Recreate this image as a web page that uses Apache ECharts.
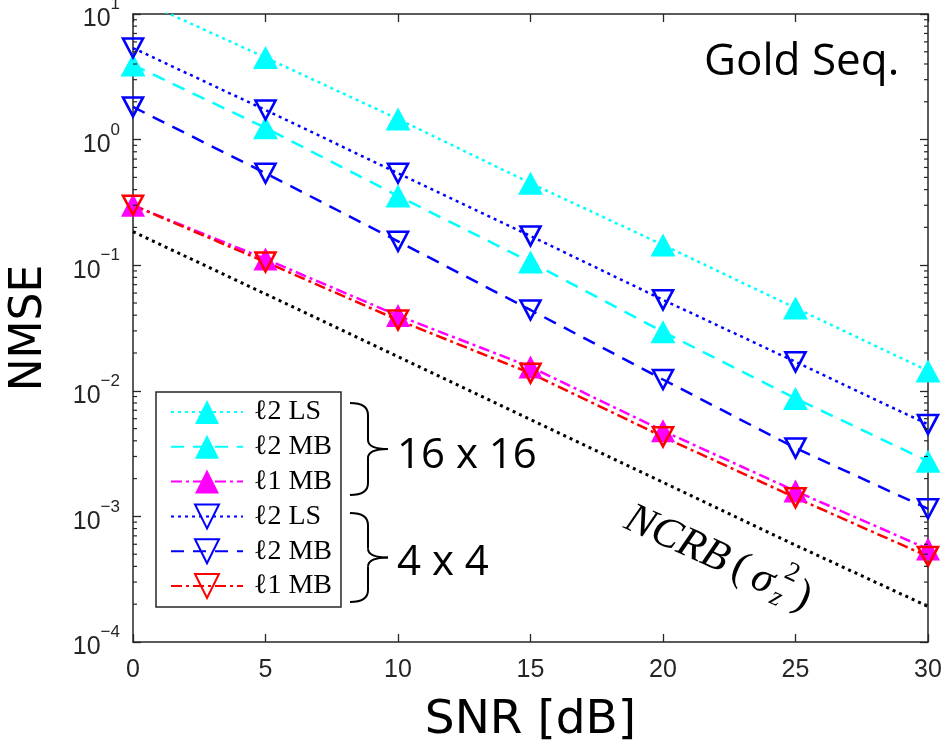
<!DOCTYPE html>
<html>
<head>
<meta charset="utf-8">
<script src="https://cdn.jsdelivr.net/npm/echarts@6/dist/echarts.min.js"></script>
<style>
  html, body { margin: 0; padding: 0; background: #ffffff; }
  #chart { width: 946px; height: 751px; }
</style>
</head>
<body>
<div id="chart"></div>
<script>
// SNR grid (dB) and x tick labels
const snrDb = [0, 5, 10, 15, 20, 25, 30];
const xTickValues = [0, 5, 10, 15, 20, 25, 30];

// NMSE curves, 16 x 16 array
const ls16 = [13.6, 4.5, 1.46, 0.45, 0.145, 0.0457, 0.0144];
const mb16 = [3.93, 1.24, 0.356, 0.106, 0.0295, 0.0087, 0.00275];
const l1mb16 = [0.30, 0.112, 0.0397, 0.0155, 0.0048, 0.00159, 0.00055];

// NMSE curves, 4 x 4 array
const ls4 = [5.36, 1.72, 0.54, 0.171, 0.053, 0.017, 0.0054];
const mb4 = [1.82, 0.54, 0.155, 0.044, 0.0123, 0.0035, 0.00115];
const l1mb4 = [0.30, 0.106, 0.0366, 0.0138, 0.0043, 0.00141, 0.00048];

// bound curve
const ncrb = [0.185, 0.059, 0.0187, 0.0059, 0.00187, 0.00059, 0.000192];

// y-axis decades
const yMin = 1e-4, yMax = 10;

const AXIS = '#262626';
const pts = vals => snrDb.map((x, i) => [x, vals[i]]);

// minor log ticks 2..9 within each decade
const minorTicks = [];
for (let d = -4; d < 1; d++) {
  for (let k = 2; k <= 9; k++) minorTicks.push([0, k * Math.pow(10, d)]);
}

const DOT = [3, 4];
const DASH = [13, 9];
const DASHDOT = [11, 4, 3, 4];

function lineSeries(name, vals, color, dash, opts) {
  return Object.assign({
    name: name,
    type: 'line',
    data: pts(vals),
    clip: true,
    lineStyle: { color: color, width: 2.5, type: dash },
    emphasis: { disabled: true },
    animation: false
  }, opts);
}

const upFilled = (color, size) => ({
  symbol: 'triangle', symbolSize: size, symbolKeepAspect: false,
  itemStyle: { color: color, borderColor: color, borderWidth: 0 }
});
const downOpen = color => ({
  symbol: 'triangle', symbolSize: [20, 19], symbolRotate: 180,
  itemStyle: { color: 'rgba(255,255,255,0)', borderColor: color, borderWidth: 2.6 }
});

const series = [
  lineSeries('\u21132 LS (16x16)', ls16, '#00ffff', DOT, upFilled('#00ffff', [25, 23])),
  lineSeries('\u21132 MB (16x16)', mb16, '#00ffff', DASH, upFilled('#00ffff', [25, 23])),
  lineSeries('\u21131 MB (16x16)', l1mb16, '#ff00ff', DASHDOT, upFilled('#ff00ff', [24, 23])),
  lineSeries('\u21132 LS (4x4)', ls4, '#0000ff', DOT, downOpen('#0000ff')),
  lineSeries('\u21132 MB (4x4)', mb4, '#0000ff', DASH, downOpen('#0000ff')),
  lineSeries('\u21131 MB (4x4)', l1mb4, '#ff0000', DASHDOT, downOpen('#ff0000')),
  lineSeries('NCRB', ncrb, '#000000', DOT, { symbol: 'none', lineStyle: { color: '#000000', width: 3, type: DOT } }),
  {
    type: 'custom',
    silent: true,
    data: minorTicks,
    z: 5,
    renderItem: function (params, api) {
      const y = api.coord([0, api.value(1)])[1];
      const cs = params.coordSys;
      const st = { stroke: AXIS, lineWidth: 1.2 };
      return {
        type: 'group',
        children: [
          { type: 'line', shape: { x1: cs.x, y1: y, x2: cs.x + 4, y2: y }, style: st },
          { type: 'line', shape: { x1: cs.x + cs.width, y1: y, x2: cs.x + cs.width - 4, y2: y }, style: st }
        ]
      };
    }
  }
];

// NCRB label: math-style pieces set along a line parallel to the bound
const SERIF = '"Liberation Serif"';
const F = 43, FS = 27;
const mctx = document.createElement('canvas').getContext('2d');
mctx.font = 'italic ' + F + 'px ' + SERIF;
const wNCRB = mctx.measureText('NCRB').width;
const wB = mctx.measureText('B').width;
const bCenter = wNCRB - wB / 2;
const ang = 24.5 * Math.PI / 180;
const bAnchor = [715, 557];
const piece = (txt, x, y, size, italic) => ({
  type: 'text', x: x, y: y,
  style: { text: txt, font: (italic ? 'italic ' : '') + size + 'px ' + SERIF, fill: '#000', verticalAlign: 'middle' }
});
const ncrbLabel = {
  type: 'group',
  x: bAnchor[0] - bCenter * Math.cos(ang),
  y: bAnchor[1] - bCenter * Math.sin(ang),
  rotation: -ang,
  children: [
    piece('NCRB', 0, 0, F, true),
    piece('(', wNCRB + 7, 0, F, false),
    piece('\u03c3', wNCRB + 29, 1, F, true),
    piece('z', wNCRB + 54, 12, FS, true),
    piece('2', wNCRB + 57, -17, FS, false),
    piece(')', wNCRB + 76, 0, F, false)
  ]
};

// curly bracket built from straight and quadratic pieces
function brace(x0, yTop, yBot, depth, tip) {
  const xm = x0 + depth;
  const ym = (yTop + yBot) / 2;
  const st = { fill: 'none', stroke: '#000', lineWidth: 2 };
  const q = (x1, y1, cx, cy, x2, y2) => ({ type: 'bezierCurve', shape: { x1: x1, y1: y1, cpx1: cx, cpy1: cy, x2: x2, y2: y2 }, style: st });
  const l = (x1, y1, x2, y2) => ({ type: 'line', shape: { x1: x1, y1: y1, x2: x2, y2: y2 }, style: st });
  return {
    type: 'group',
    children: [
      q(x0, yTop, xm, yTop, xm, yTop + 12),
      l(xm, yTop + 12, xm, ym - 9),
      q(xm, ym - 9, xm, ym, xm + tip, ym),
      q(xm + tip, ym, xm, ym, xm, ym + 9),
      l(xm, ym + 9, xm, yBot - 12),
      q(xm, yBot - 12, xm, yBot, x0, yBot)
    ]
  };
}

const chart = echarts.init(document.getElementById('chart'), null, { renderer: 'canvas' });

chart.setOption({
  backgroundColor: '#ffffff',
  animation: false,
  grid: { left: 133, right: 18, top: 14, bottom: 109, show: false, containLabel: false, outerBoundsMode: 'none' },
  legend: {
    data: ['\u21132 LS (16x16)', '\u21132 MB (16x16)', '\u21131 MB (16x16)',
           '\u21132 LS (4x4)', '\u21132 MB (4x4)', '\u21131 MB (4x4)'],
    formatter: name => name.split(' (')[0],
    orient: 'vertical',
    left: 156, top: 392,
    itemWidth: 72, itemHeight: 30, itemGap: 6.8,
    padding: [6, 9, 7, 14],
    backgroundColor: '#ffffff',
    borderColor: AXIS, borderWidth: 1.5, borderRadius: 0,
    selectedMode: false,
    textStyle: { fontFamily: '"Liberation Serif", "DejaVu Serif", serif', fontSize: 28, color: '#000', padding: [0, 0, 0, 6] }
  },
  xAxis: [
    {
      type: 'value', min: 0, max: 30, interval: 5, position: 'bottom',
      name: 'SNR [dB]', nameLocation: 'middle', nameGap: 55, nameMoveOverlap: false,
      nameTextStyle: { fontFamily: '"DejaVu Sans", sans-serif', fontSize: 47, color: '#000' },
      axisLine: { show: true, onZero: false, lineStyle: { color: AXIS, width: 1.5 } },
      axisTick: { show: true, inside: true, length: 8, lineStyle: { color: AXIS, width: 1.3 } },
      axisLabel: { margin: 16, fontFamily: '"Liberation Sans", sans-serif', fontSize: 25, color: AXIS,
                   formatter: v => xTickValues.indexOf(v) >= 0 ? String(v) : '' },
      splitLine: { show: false }
    },
    {
      type: 'value', min: 0, max: 30, interval: 5, position: 'top',
      axisLine: { show: true, onZero: false, lineStyle: { color: AXIS, width: 1.5 } },
      axisTick: { show: true, inside: true, length: 8, lineStyle: { color: AXIS, width: 1.3 } },
      axisLabel: { show: false },
      splitLine: { show: false }
    }
  ],
  yAxis: [
    {
      type: 'log', logBase: 10, min: yMin, max: yMax, splitNumber: 5, position: 'left',
      name: 'NMSE', nameLocation: 'middle', nameGap: 81, nameMoveOverlap: false,
      nameTextStyle: { fontFamily: '"DejaVu Sans", sans-serif', fontSize: 44, color: '#000' },
      axisLine: { show: true, onZero: false, lineStyle: { color: AXIS, width: 1.5 } },
      axisTick: { show: true, inside: true, length: 8, lineStyle: { color: AXIS, width: 1.3 } },
      axisLabel: {
        margin: 13,
        formatter: v => '{b|10}{e|' + String(Math.round(Math.log10(v))).replace('-', '\u2212') + '}',
        rich: {
          b: { fontFamily: '"Liberation Sans", sans-serif', fontSize: 25, color: AXIS, verticalAlign: 'bottom', lineHeight: 36 },
          e: { fontFamily: '"Liberation Sans", sans-serif', fontSize: 17, color: AXIS, verticalAlign: 'top', lineHeight: 36 }
        }
      },
      splitLine: { show: false }
    },
    {
      type: 'log', logBase: 10, min: yMin, max: yMax, splitNumber: 5, position: 'right',
      axisLine: { show: true, onZero: false, lineStyle: { color: AXIS, width: 1.5 } },
      axisTick: { show: true, inside: true, length: 8, lineStyle: { color: AXIS, width: 1.3 } },
      axisLabel: { show: false },
      splitLine: { show: false }
    }
  ],
  series: series,
  graphic: [
    { type: 'text', x: 704, y: 62, style: { text: 'Gold Seq.', font: '44px "Open Sans"', fill: '#000', verticalAlign: 'middle' } },
    { type: 'text', x: 397, y: 456, style: { text: '16 x 16', font: '42px "Open Sans"', fill: '#000', verticalAlign: 'middle' } },
    { type: 'text', x: 397, y: 563, style: { text: '4 x 4', font: '42px "Open Sans"', fill: '#000', verticalAlign: 'middle' } },
    brace(350, 403, 495, 18, 20),
    brace(350, 513, 602, 18, 20),
    ncrbLabel
  ]
});
</script>
</body>
</html>
